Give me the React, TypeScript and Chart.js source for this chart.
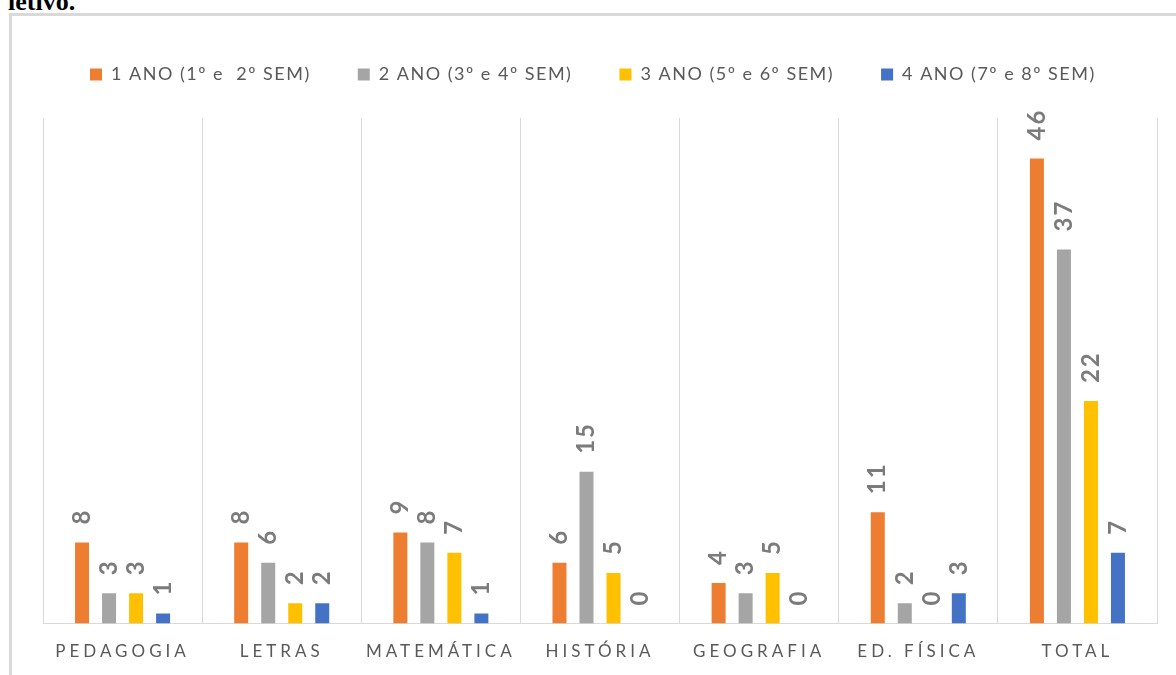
import { useEffect, useRef } from "react";
import { Chart, registerables, CategoryScale } from "chart.js";

Chart.register(...registerables);

const categories = ["PEDAGOGIA", "LETRAS", "MATEMÁTICA", "HISTÓRIA", "GEOGRAFIA", "ED. FÍSICA", "TOTAL"];
const seriesLabels = ["1 ANO (1º e  2º SEM)", "2 ANO (3º e 4º SEM)", "3 ANO (5º e 6º SEM)", "4 ANO (7º e 8º SEM)"];
const ano1 = [8, 8, 9, 6, 4, 11, 46];
const ano2 = [3, 6, 8, 15, 3, 2, 37];
const ano3 = [3, 2, 7, 5, 5, 0, 22];
const ano4 = [1, 2, 1, 0, 0, 3, 7];
const seriesColors = ["#ED7D31", "#A5A5A5", "#FFC000", "#4472C4"];
const yMin = 0;
const yMax = 50;

class SpacedCategoryScale extends CategoryScale {
  static id = "spacedCategory";
  static defaults = CategoryScale.defaults;
  drawLabels(chartArea: any) {
    const ctx: any = this.ctx;
    ctx.save();
    ctx.letterSpacing = "4px";
    super.drawLabels(chartArea);
    ctx.restore();
  }
}
Chart.register(SpacedCategoryScale as any);

const baseSpacing = {
  id: "baseSpacing",
  beforeLayout(chart: any) {
    chart.ctx.letterSpacing = "1.5px";
  },
  beforeDraw(chart: any) {
    chart.ctx.letterSpacing = "1.5px";
  },
};

const valueLabels = {
  id: "valueLabels",
  afterDatasetsDraw(chart: any) {
    const ctx = chart.ctx;
    chart.data.datasets.forEach((ds: any, di: number) => {
      const meta = chart.getDatasetMeta(di);
      meta.data.forEach((bar: any, i: number) => {
        const v = ds.data[i];
        ctx.save();
        ctx.translate(bar.x, bar.y - 18);
        ctx.rotate(-Math.PI / 2);
        ctx.font = "bold 24px Lato";
        ctx.letterSpacing = "2px";
        ctx.fillStyle = "#7b7b7b";
        ctx.textAlign = "left";
        ctx.textBaseline = "middle";
        ctx.fillText(String(v), 0, 0);
        ctx.restore();
      });
    });
  },
};

const legendGap = {
  id: "legendGap",
  afterInit(chart: any) {
    const lg = chart.legend;
    if (!lg) return;
    const orig = lg.fit;
    lg.fit = function () {
      orig.call(this);
      this.height += 24.5;
    };
  },
};

export default function App() {
  const ref = useRef<HTMLCanvasElement>(null);
  useEffect(() => {
    const series = [ano1, ano2, ano3, ano4];
    const chart = new Chart(ref.current as HTMLCanvasElement, {
      type: "bar",
      data: {
        labels: categories,
        datasets: series.map((d, i) => ({
          label: seriesLabels[i],
          data: d,
          backgroundColor: seriesColors[i],
          borderWidth: 0,
          categoryPercentage: 0.679,
          barPercentage: 0.518,
        })),
      },
      options: {
        responsive: false,
        animation: false,
        layout: { padding: { top: 2.5, left: 31, right: 19, bottom: 13.5 } },
        plugins: {
          legend: {
            position: "top",
            align: "start",
            labels: {
              boxWidth: 12,
              boxHeight: 12,
              padding: 47,
              color: "#595959",
              font: { family: "Lato", size: 18 },
            },
          },
          tooltip: { enabled: false },
          title: { display: false },
        },
        scales: {
          x: {
            type: "spacedCategory" as any,
            grid: { offset: true, color: "#d9d9d9", lineWidth: 1, drawTicks: false },
            border: { color: "#d9d9d9", width: 1 },
            ticks: {
              color: "#595959",
              font: { family: "Lato", size: 17 },
              padding: 18,
              maxRotation: 0,
              autoSkip: false,
            },
            afterFit: (s: any) => {
              s.height = 38;
            },
          },
          y: { display: false, min: yMin, max: yMax },
        },
      },
      plugins: [baseSpacing, valueLabels, legendGap],
    } as any);
    return () => chart.destroy();
  }, []);

  return (
    <div style={{ position: "fixed", left: 0, top: 0, width: 1176, height: 675, overflow: "hidden", background: "#fff" }}>
      <div
        style={{
          position: "absolute",
          left: 8,
          top: -11,
          font: 'bold 26px "Liberation Serif", "Times New Roman", serif',
          lineHeight: "26px",
          color: "#000",
          whiteSpace: "nowrap",
        }}
      >
        letivo.
      </div>
      <div
        style={{
          position: "absolute",
          left: 9,
          top: 13,
          width: 1200,
          height: 700,
          border: "3px solid #d9d9d9",
          boxSizing: "border-box",
        }}
      />
      <canvas
        ref={ref}
        width={1164}
        height={659}
        style={{ position: "absolute", left: 12, top: 16, width: 1164, height: 659, display: "block" }}
      />
    </div>
  );
}
